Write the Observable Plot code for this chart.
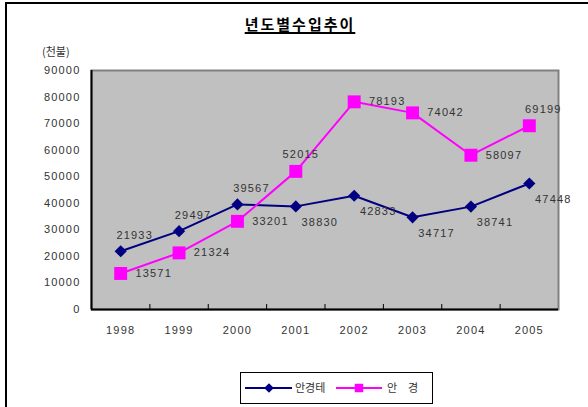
<!DOCTYPE html>
<html><head><meta charset="utf-8">
<script src="https://cdn.jsdelivr.net/npm/d3@7"></script>
<script src="https://cdn.jsdelivr.net/npm/@observablehq/plot@0.6"></script>
<style>
body{margin:0;background:#fff;}
#wrap{position:relative;width:588px;height:407px;overflow:hidden;font-family:"Liberation Sans",Arial,sans-serif;}
#frame{position:absolute;left:5px;top:2px;width:700px;height:600px;border-left:2px solid #000;border-top:2px solid #000;}
#title{position:absolute;left:0;width:600px;top:13px;text-align:center;font-family:"Noto Sans CJK KR",sans-serif;font-weight:bold;font-size:15px;letter-spacing:2px;color:#000;text-decoration:underline;text-decoration-thickness:1.5px;text-underline-offset:2px;}
#unit{position:absolute;left:42px;top:43px;font-family:"Noto Sans CJK KR",sans-serif;font-size:11px;color:#333;}
#chart{position:absolute;left:0;top:0;}
#legend{position:absolute;left:240px;top:372px;}
</style></head><body>
<div id="wrap">
 <div id="frame"></div>
 <div id="chart"></div>
 <div id="title">년도별수입추이</div>
 <div id="unit">(천불)</div>
 <div id="legend"></div>
</div>
<script>
// ---- data ----
const years = [1998, 1999, 2000, 2001, 2002, 2003, 2004, 2005];
const seriesNames = ["안경테", "안  경"];
const frameValues = [21933, 29497, 39567, 38830, 42833, 34717, 38741, 47448];
const lensValues  = [13571, 21324, 33201, 52015, 78193, 74042, 58097, 69199];
const frameLabelPos = ["aboveRight","aboveRight","aboveRight","belowRight","belowRight","belowRight","belowRight","belowRight"];
const lensLabelPos  = ["right","right","right","above","right","right","right","aboveRight"];
const yTicks = [0, 10000, 20000, 30000, 40000, 50000, 60000, 70000, 80000, 90000];
const colors = ["#000080", "#FF00FF"];

// ---- build ----
const rows = years.flatMap((yr, i) => [
  {year: yr, value: frameValues[i], s: 0, pos: frameLabelPos[i]},
  {year: yr, value: lensValues[i], s: 1, pos: lensLabelPos[i]}
]);
const offsets = {above: [5, -17], aboveRight: [14, -16], belowRight: [24, 16], right: [33, 0]};
const boundaries = years.slice(1).map(y => y - 0.5);
const xMin = years[0] - 0.5, xMax = years[years.length - 1] + 0.5;

const labelMarks = Object.entries(offsets).map(([k, [dx, dy]]) =>
  Plot.text(rows.filter(d => d.pos === k), {x: "year", y: "value", text: d => String(d.value), dx, dy, fill: "#333", fontSize: 11})
);

const chart = Plot.plot({
  width: 588, height: 407,
  marginLeft: 91, marginRight: 30, marginTop: 70, marginBottom: 98,
  style: {fontFamily: "'Liberation Sans', Arial, sans-serif", fontSize: "11px", letterSpacing: "1.2px", color: "#000", background: "transparent", overflow: "visible"},
  x: {type: "linear", domain: [xMin, xMax]},
  y: {domain: [0, 90000]},
  marks: [
    Plot.frame({fill: "#C0C0C0", stroke: "#808080", strokeWidth: 2}),
    Plot.axisY({ticks: yTicks, tickSize: 0, tickPadding: 11, tickFormat: d3.format("d"), label: null, fill: "#333"}),
    Plot.axisX({ticks: years, tickSize: 0, tickPadding: 17, tickFormat: d => String(d), label: null, fill: "#333"}),
    Plot.axisX({ticks: boundaries, tickSize: -5, tickFormat: () => "", label: null, stroke: "#000"}),
    Plot.ruleX([xMin], {stroke: "#000", strokeWidth: 2}),
    Plot.ruleY([0], {stroke: "#000", strokeWidth: 2}),
    Plot.line(rows.filter(d => d.s === 0), {x: "year", y: "value", stroke: colors[0], strokeWidth: 2}),
    Plot.line(rows.filter(d => d.s === 1), {x: "year", y: "value", stroke: colors[1], strokeWidth: 2}),
    Plot.dot(rows.filter(d => d.s === 0), {x: "year", y: "value", symbol: "diamond2", r: 5.5, fill: colors[0], stroke: "none"}),
    Plot.dot(rows.filter(d => d.s === 1), {x: "year", y: "value", symbol: "square", r: 7.3, fill: colors[1], stroke: "none"}),
    ...labelMarks
  ]
});
document.getElementById("chart").appendChild(chart);

// ---- legend ----
const lg = d3.select("#legend").append("svg").attr("width", 194).attr("height", 33);
lg.append("rect").attr("x", 0.5).attr("y", 0.5).attr("width", 192).attr("height", 31).attr("fill", "#fff").attr("stroke", "#000");
const items = [
  {x0: 5, x1: 52, cx: 29, tx: 55, sym: d3.symbolDiamond2, size: 60},
  {x0: 96, x1: 142, cx: 119, tx: 147, sym: d3.symbolSquare, size: 72}
];
items.forEach((it, i) => {
  lg.append("line").attr("x1", it.x0).attr("x2", it.x1).attr("y1", 16).attr("y2", 16).attr("stroke", colors[i]).attr("stroke-width", 2);
  lg.append("path").attr("d", d3.symbol(it.sym, it.size)()).attr("transform", `translate(${it.cx},16)`).attr("fill", colors[i]);
  lg.append("text").attr("x", it.tx).attr("y", 16).attr("dy", "0.35em").attr("font-family", "'Noto Sans CJK KR', sans-serif").attr("font-size", 11).attr("fill", "#333").text(seriesNames[i].replace(/ /g, "\u2002"));
});
</script>
</body></html>
